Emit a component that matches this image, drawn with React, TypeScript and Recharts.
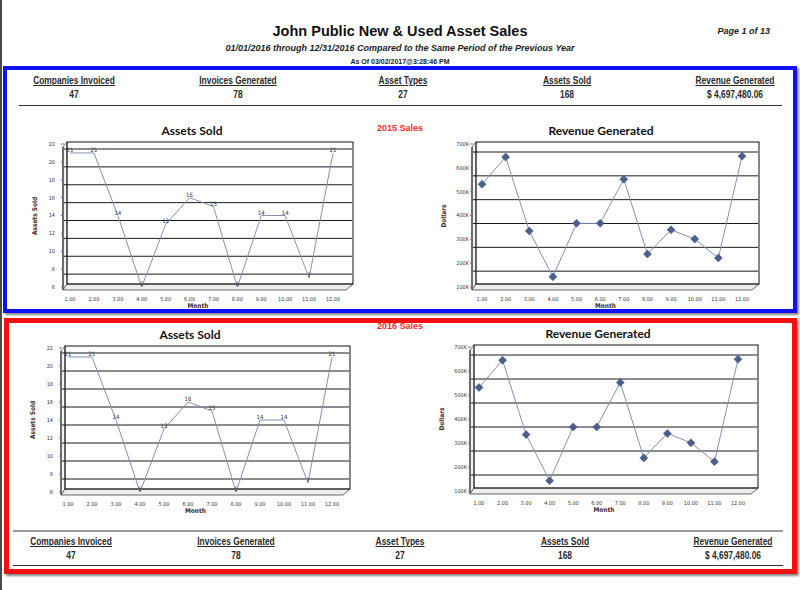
import React from "react";
import { LineChart, Line, XAxis, YAxis, CartesianGrid, LabelList } from "recharts";

const MONTHS = ["1.00", "2.00", "3.00", "4.00", "5.00", "6.00", "7.00", "8.00", "9.00", "10.00", "11.00", "12.00"];

const ASSETS_SOLD_2015 = [21, 21, 14, 6, 13, 16, 15, 6, 14, 14, 7, 21];
const REVENUE_2015 = [531000, 645000, 335000, 143000, 367000, 367000, 552000, 238000, 340000, 301000, 222000, 649000];

const ASSETS_SOLD_2016 = [21, 21, 14, 6, 13, 16, 15, 6, 14, 14, 7, 21];
const REVENUE_2016 = [531000, 645000, 335000, 143000, 367000, 367000, 552000, 238000, 340000, 301000, 222000, 649000];

const ASSET_TICKS = [6, 8, 10, 12, 14, 16, 18, 20, 22];
const REVENUE_TICKS = [100000, 200000, 300000, 400000, 500000, 600000, 700000];

const SUMMARY_LABELS = ["Companies Invoiced", "Invoices Generated", "Asset Types", "Assets Sold", "Revenue Generated"];
const SUMMARY_VALUES = ["47", "78", "27", "168", "$ 4,697,480.06"];

const NARROW = "'Liberation Sans Narrow', 'Arial Narrow', 'DejaVu Sans Condensed', 'Liberation Sans', sans-serif";
const ARIAL = "'Liberation Sans', Arial, sans-serif";

type Box = { x: number; y: number; w: number; h: number };

// fake 3D walls drawn behind the chart svg
function Frame3D({ box }: { box: Box }) {
  const { x, y, w, h } = box;
  const r = x + w;
  const b = y + h;
  const ox = x - 8;
  const oy = y - 8;
  return (
    <svg style={{ position: "absolute", left: ox, top: oy }} width={w + 18} height={h + 18}>
      <g transform={`translate(${-ox},${-oy})`}>
        <polygon points={`${x - 1},${y + 3} ${x + 3},${y - 2} ${x + 3},${b - 3} ${x - 1},${b + 3}`} fill="#f3f3f3" stroke="#777" strokeWidth={1} />
        <polygon points={`${x - 1},${b + 3} ${r - 6},${b + 3} ${r + 1},${b - 3} ${x + 3},${b - 3}`} fill="#ececec" stroke="#666" strokeWidth={1} />
        <rect x={x + 3} y={y - 2} width={w - 2} height={h - 1} fill="none" stroke="#111" strokeWidth={1} />
        <line x1={x - 1} y1={y + 3} x2={x - 1} y2={b + 3} stroke="#555" strokeWidth={1.5} />
      </g>
    </svg>
  );
}

function Diamond(props: any) {
  const { cx, cy, index } = props;
  if (cx == null || cy == null) return null;
  const s = 4;
  return (
    <polygon
      key={`d-${index}`}
      points={`${cx},${cy - s} ${cx + s},${cy} ${cx},${cy + s} ${cx - s},${cy}`}
      fill="#4a5f8e"
      stroke="#3a4e7a"
      strokeWidth={0.5}
    />
  );
}

type PanelProps = {
  box: Box;
  values: number[];
  domain: [number, number];
  ticks: number[];
  fmt?: (v: number) => string;
  padL: number;
  padR: number;
  tickMargin: number;
  gridShift: number;
  diamonds?: boolean;
  labels?: boolean;
  title: string;
  titleX: number;
  yLabel: string;
};

function Panel(p: PanelProps) {
  const { box } = p;
  const ML = 48, MT = 12, MR = 14, MB = 16, XH = 14;
  const data = MONTHS.map((m, i) => ({ month: m, value: p.values[i] }));
  const [lo, hi] = p.domain;
  const gridYs = p.ticks
    .map((t) => box.y + ((hi - t) / (hi - lo)) * box.h + p.gridShift)
    .filter((gy) => gy < box.y + box.h - 5)
    .map((gy) => gy - (box.y - MT));
  const tickStyle = { fontSize: 5.5, fill: "#333", fontFamily: NARROW };
  return (
    <>
      <div
        style={{
          position: "absolute",
          left: p.titleX - 120,
          width: 240,
          top: box.y - 19,
          textAlign: "center",
          fontFamily: "Lato, 'Open Sans', sans-serif",
          fontWeight: 700,
          fontSize: 12,
          lineHeight: "12px",
          color: "#111",
        }}
      >
        {p.title}
      </div>
      <div
        style={{
          position: "absolute",
          left: box.x - 29 - 40,
          width: 80,
          top: box.y + box.h / 2 - 4,
          textAlign: "center",
          transform: "rotate(-90deg)",
          fontFamily: NARROW,
          fontWeight: 700,
          fontSize: 6.5,
          lineHeight: "8px",
          color: "#4a2a22",
        }}
      >
        {p.yLabel}
      </div>
      <div
        style={{
          position: "absolute",
          left: box.x + box.w / 2 - 40 - 10,
          width: 80,
          top: box.y + box.h + 15,
          textAlign: "center",
          fontFamily: NARROW,
          fontWeight: 700,
          fontSize: 6.5,
          lineHeight: "8px",
          color: "#4a2a22",
        }}
      >
        Month
      </div>
      <Frame3D box={box} />
      <div style={{ position: "absolute", left: box.x - ML, top: box.y - MT }}>
        <LineChart
          width={box.w + ML + MR}
          height={box.h + MT + MB + XH}
          data={data}
          margin={{ top: MT, right: MR, bottom: MB, left: ML - 30 }}
        >
          <CartesianGrid vertical={false} horizontalPoints={gridYs} stroke="#1a1a1a" strokeWidth={1} />
          <XAxis
            dataKey="month"
            padding={{ left: p.padL, right: p.padR }}
            tickLine={false}
            axisLine={false}
            tick={tickStyle}
            tickMargin={4}
            height={XH}
            interval={0}
          />
          <YAxis
            type="number"
            domain={p.domain}
            ticks={p.ticks}
            interval={0}
            width={30}
            axisLine={false}
            tickLine={{ stroke: "#777" }}
            tickSize={3}
            tickMargin={p.tickMargin}
            tick={tickStyle}
            tickFormatter={p.fmt}
            allowDataOverflow
          />
          <Line
            type="linear"
            dataKey="value"
            stroke="#8391b3"
            strokeWidth={1}
            dot={p.diamonds ? Diamond : false}
            activeDot={false}
            isAnimationActive={false}
          >
            {p.labels && <LabelList dataKey="value" position="top" offset={1} style={{ fontSize: 6, fill: "#333", fontFamily: NARROW }} />}
          </Line>
        </LineChart>
      </div>
    </>
  );
}

const summaryText: React.CSSProperties = {
  position: "absolute",
  width: 140,
  textAlign: "center",
  fontFamily: ARIAL,
  fontWeight: 700,
  fontSize: 10,
  lineHeight: "12px",
  color: "#2a2a2a",
  transform: "scaleX(0.84)",
  transformOrigin: "center",
};

function SummaryRow({ top, centers }: { top: number; centers: number[] }) {
  return (
    <>
      {SUMMARY_LABELS.map((label, i) => (
        <React.Fragment key={label}>
          <div style={{ ...summaryText, left: centers[i] - 70, top, textDecoration: "underline" }}>{label}</div>
          <div style={{ ...summaryText, left: centers[i] - 70, top: top + 14 }}>{SUMMARY_VALUES[i]}</div>
        </React.Fragment>
      ))}
    </>
  );
}

const kFmt = (v: number) => `${Math.round(v / 1000)}K`;

export default function App() {
  return (
    <div
      style={{
        position: "absolute",
        left: 0,
        top: 0,
        width: 800,
        height: 590,
        background: "#fff",
        overflow: "hidden",
        fontFamily: ARIAL,
      }}
    >
      <div style={{ position: "absolute", left: 0, top: 0, width: 2, height: 590, background: "#4a4a4a" }} />

      <div style={{ position: "absolute", left: 0, width: 800, top: 23, textAlign: "center", fontWeight: 700, fontSize: 14.5, lineHeight: "16px", color: "#111" }}>
        John Public New &amp; Used Asset Sales
      </div>
      <div style={{ position: "absolute", right: 30, top: 26, fontWeight: 700, fontStyle: "italic", fontSize: 9, lineHeight: "11px", color: "#222" }}>
        Page 1 of 13
      </div>
      <div style={{ position: "absolute", left: 0, width: 800, top: 43, textAlign: "center", fontWeight: 700, fontStyle: "italic", fontSize: 9, lineHeight: "11px", color: "#222" }}>
        01/01/2016 through 12/31/2016 Compared to the Same Period of the Previous Year
      </div>
      <div style={{ position: "absolute", left: 0, width: 800, top: 57, textAlign: "center", fontWeight: 700, fontSize: 7, lineHeight: "9px", color: "#222" }}>
        As Of 03/02/2017@3:28:46 PM
      </div>

      {/* 2015 section */}
      <div
        style={{
          position: "absolute",
          left: 3,
          top: 66,
          width: 794,
          height: 247,
          boxSizing: "border-box",
          border: "4px solid #1010f5",
          boxShadow: "2px 2px 2px #888",
        }}
      />
      <SummaryRow top={75} centers={[74, 238, 403, 567, 735]} />
      <div style={{ position: "absolute", left: 19, width: 763, top: 105, height: 1, background: "#333" }} />
      <div style={{ position: "absolute", left: 0, width: 800, top: 123, textAlign: "center", fontWeight: 700, fontSize: 9, lineHeight: "11px", color: "#ff2a2a" }}>
        2015 Sales
      </div>
      <Panel
        box={{ x: 64, y: 144, w: 288, h: 143 }}
        values={ASSETS_SOLD_2015}
        domain={[6, 22]}
        ticks={ASSET_TICKS}
        padL={6}
        padR={19}
        tickMargin={6}
        gridShift={5}
        labels
        title="Assets Sold"
        titleX={192}
        yLabel="Assets Sold"
      />
      <Panel
        box={{ x: 473, y: 144, w: 285, h: 143 }}
        values={REVENUE_2015}
        domain={[100000, 700000]}
        ticks={REVENUE_TICKS}
        fmt={kFmt}
        padL={9}
        padR={16}
        tickMargin={1}
        gridShift={8}
        diamonds
        title="Revenue Generated"
        titleX={601}
        yLabel="Dollars"
      />

      {/* 2016 section */}
      <div
        style={{
          position: "absolute",
          left: 4,
          top: 318,
          width: 793,
          height: 256,
          boxSizing: "border-box",
          border: "5px solid #f50f0f",
          boxShadow: "2px 2px 2px #888",
        }}
      />
      <div style={{ position: "absolute", left: 0, width: 800, top: 321, textAlign: "center", fontWeight: 700, fontSize: 9, lineHeight: "11px", color: "#ff2a2a" }}>
        2016 Sales
      </div>
      <Panel
        box={{ x: 62, y: 348, w: 287, h: 144 }}
        values={ASSETS_SOLD_2016}
        domain={[6, 22]}
        ticks={ASSET_TICKS}
        padL={6}
        padR={17}
        tickMargin={6}
        gridShift={5}
        labels
        title="Assets Sold"
        titleX={190}
        yLabel="Assets Sold"
      />
      <Panel
        box={{ x: 471, y: 347, w: 286, h: 144 }}
        values={REVENUE_2016}
        domain={[100000, 700000]}
        ticks={REVENUE_TICKS}
        fmt={kFmt}
        padL={8}
        padR={19}
        tickMargin={1}
        gridShift={8}
        diamonds
        title="Revenue Generated"
        titleX={598}
        yLabel="Dollars"
      />
      <div style={{ position: "absolute", left: 13, width: 770, top: 530, height: 2, background: "#999" }} />
      <SummaryRow top={536} centers={[71, 236, 400, 565, 733]} />
      <div style={{ position: "absolute", left: 13, width: 770, top: 565, height: 1, background: "#333" }} />
    </div>
  );
}
